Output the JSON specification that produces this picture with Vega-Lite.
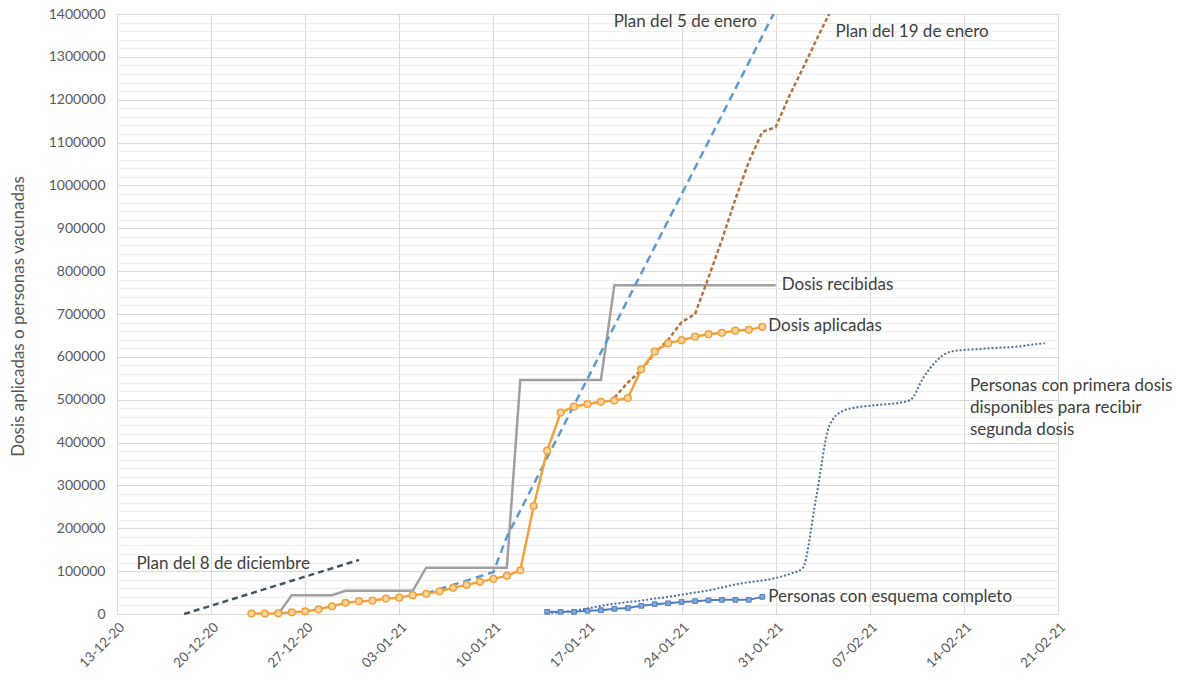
{
  "$schema": "https://vega.github.io/schema/vega-lite/v6.json",
  "width": 941,
  "height": 600,
  "autosize": {"type": "none"},
  "padding": {"left": 117, "top": 14, "right": 130, "bottom": 67},
  "background": "white",
  "config": {
    "font": "Lato",
    "view": {"stroke": "#d9d9d9"},
    "axis": {"labelFont": "Lato", "titleFont": "Lato", "labelColor": "#595959", "titleColor": "#595959"}
  },
  "datasets": {
    "series": [
      {"serie": "plan8", "fecha": "2020-12-18", "valor": 0},
      {"serie": "plan8", "fecha": "2020-12-31", "valor": 126000},

      {"serie": "recibidas", "fecha": "2020-12-25", "valor": 0},
      {"serie": "recibidas", "fecha": "2020-12-26", "valor": 44000},
      {"serie": "recibidas", "fecha": "2020-12-29", "valor": 44000},
      {"serie": "recibidas", "fecha": "2020-12-30", "valor": 54000},
      {"serie": "recibidas", "fecha": "2021-01-04", "valor": 54000},
      {"serie": "recibidas", "fecha": "2021-01-05", "valor": 108000},
      {"serie": "recibidas", "fecha": "2021-01-11", "valor": 108000},
      {"serie": "recibidas", "fecha": "2021-01-12", "valor": 546000},
      {"serie": "recibidas", "fecha": "2021-01-18", "valor": 546000},
      {"serie": "recibidas", "fecha": "2021-01-19", "valor": 767000},
      {"serie": "recibidas", "fecha": "2021-01-31", "valor": 767000},

      {"serie": "plan5", "fecha": "2021-01-05", "valor": 48000},
      {"serie": "plan5", "fecha": "2021-01-10", "valor": 98000},
      {"serie": "plan5", "fecha": "2021-01-11", "valor": 180000},
      {"serie": "plan5", "fecha": "2021-01-31", "valor": 1410000},

      {"serie": "plan19", "fecha": "2021-01-19", "valor": 505000},
      {"serie": "plan19", "fecha": "2021-01-20", "valor": 540000},
      {"serie": "plan19", "fecha": "2021-01-21", "valor": 569000},
      {"serie": "plan19", "fecha": "2021-01-22", "valor": 609000},
      {"serie": "plan19", "fecha": "2021-01-23", "valor": 640000},
      {"serie": "plan19", "fecha": "2021-01-24", "valor": 681000},
      {"serie": "plan19", "fecha": "2021-01-25", "valor": 700000},
      {"serie": "plan19", "fecha": "2021-01-26", "valor": 785000},
      {"serie": "plan19", "fecha": "2021-01-27", "valor": 873000},
      {"serie": "plan19", "fecha": "2021-01-28", "valor": 968000},
      {"serie": "plan19", "fecha": "2021-01-29", "valor": 1055000},
      {"serie": "plan19", "fecha": "2021-01-30", "valor": 1125000},
      {"serie": "plan19", "fecha": "2021-01-31", "valor": 1136000},
      {"serie": "plan19", "fecha": "2021-02-01", "valor": 1208000},
      {"serie": "plan19", "fecha": "2021-02-02", "valor": 1272000},
      {"serie": "plan19", "fecha": "2021-02-03", "valor": 1338000},
      {"serie": "plan19", "fecha": "2021-02-04", "valor": 1402000},

      {"serie": "primera", "fecha": "2021-01-14", "valor": 2000},
      {"serie": "primera", "fecha": "2021-01-15", "valor": 4000},
      {"serie": "primera", "fecha": "2021-01-16", "valor": 8000},
      {"serie": "primera", "fecha": "2021-01-17", "valor": 13000},
      {"serie": "primera", "fecha": "2021-01-18", "valor": 19000},
      {"serie": "primera", "fecha": "2021-01-19", "valor": 24000},
      {"serie": "primera", "fecha": "2021-01-20", "valor": 28000},
      {"serie": "primera", "fecha": "2021-01-21", "valor": 31000},
      {"serie": "primera", "fecha": "2021-01-22", "valor": 36000},
      {"serie": "primera", "fecha": "2021-01-23", "valor": 40000},
      {"serie": "primera", "fecha": "2021-01-24", "valor": 45000},
      {"serie": "primera", "fecha": "2021-01-25", "valor": 50000},
      {"serie": "primera", "fecha": "2021-01-26", "valor": 55000},
      {"serie": "primera", "fecha": "2021-01-27", "valor": 62000},
      {"serie": "primera", "fecha": "2021-01-28", "valor": 69000},
      {"serie": "primera", "fecha": "2021-01-29", "valor": 74000},
      {"serie": "primera", "fecha": "2021-01-30", "valor": 78000},
      {"serie": "primera", "fecha": "2021-01-31", "valor": 84000},
      {"serie": "primera", "fecha": "2021-02-01", "valor": 93000},
      {"serie": "primera", "fecha": "2021-02-02", "valor": 107000},
      {"serie": "primera", "fecha": "2021-02-03", "valor": 270000},
      {"serie": "primera", "fecha": "2021-02-04", "valor": 440000},
      {"serie": "primera", "fecha": "2021-02-05", "valor": 474000},
      {"serie": "primera", "fecha": "2021-02-06", "valor": 482000},
      {"serie": "primera", "fecha": "2021-02-07", "valor": 486000},
      {"serie": "primera", "fecha": "2021-02-08", "valor": 489000},
      {"serie": "primera", "fecha": "2021-02-09", "valor": 492000},
      {"serie": "primera", "fecha": "2021-02-10", "valor": 499000},
      {"serie": "primera", "fecha": "2021-02-11", "valor": 552000},
      {"serie": "primera", "fecha": "2021-02-12", "valor": 592000},
      {"serie": "primera", "fecha": "2021-02-13", "valor": 612000},
      {"serie": "primera", "fecha": "2021-02-14", "valor": 616000},
      {"serie": "primera", "fecha": "2021-02-15", "valor": 618000},
      {"serie": "primera", "fecha": "2021-02-16", "valor": 620000},
      {"serie": "primera", "fecha": "2021-02-17", "valor": 622000},
      {"serie": "primera", "fecha": "2021-02-18", "valor": 624000},
      {"serie": "primera", "fecha": "2021-02-19", "valor": 628000},
      {"serie": "primera", "fecha": "2021-02-20", "valor": 632000},

      {"serie": "completo", "fecha": "2021-01-14", "valor": 5000},
      {"serie": "completo", "fecha": "2021-01-15", "valor": 5000},
      {"serie": "completo", "fecha": "2021-01-16", "valor": 5000},
      {"serie": "completo", "fecha": "2021-01-17", "valor": 7500},
      {"serie": "completo", "fecha": "2021-01-18", "valor": 9000},
      {"serie": "completo", "fecha": "2021-01-19", "valor": 12000},
      {"serie": "completo", "fecha": "2021-01-20", "valor": 14000},
      {"serie": "completo", "fecha": "2021-01-21", "valor": 19000},
      {"serie": "completo", "fecha": "2021-01-22", "valor": 23000},
      {"serie": "completo", "fecha": "2021-01-23", "valor": 25000},
      {"serie": "completo", "fecha": "2021-01-24", "valor": 28000},
      {"serie": "completo", "fecha": "2021-01-25", "valor": 30000},
      {"serie": "completo", "fecha": "2021-01-26", "valor": 32000},
      {"serie": "completo", "fecha": "2021-01-27", "valor": 33000},
      {"serie": "completo", "fecha": "2021-01-28", "valor": 33000},
      {"serie": "completo", "fecha": "2021-01-29", "valor": 33000},
      {"serie": "completo", "fecha": "2021-01-30", "valor": 40000},

      {"serie": "aplicadas", "fecha": "2020-12-23", "valor": 1000},
      {"serie": "aplicadas", "fecha": "2020-12-24", "valor": 1000},
      {"serie": "aplicadas", "fecha": "2020-12-25", "valor": 1500},
      {"serie": "aplicadas", "fecha": "2020-12-26", "valor": 4000},
      {"serie": "aplicadas", "fecha": "2020-12-27", "valor": 6000},
      {"serie": "aplicadas", "fecha": "2020-12-28", "valor": 11000},
      {"serie": "aplicadas", "fecha": "2020-12-29", "valor": 18000},
      {"serie": "aplicadas", "fecha": "2020-12-30", "valor": 26000},
      {"serie": "aplicadas", "fecha": "2020-12-31", "valor": 30000},
      {"serie": "aplicadas", "fecha": "2021-01-01", "valor": 31000},
      {"serie": "aplicadas", "fecha": "2021-01-02", "valor": 36000},
      {"serie": "aplicadas", "fecha": "2021-01-03", "valor": 38000},
      {"serie": "aplicadas", "fecha": "2021-01-04", "valor": 44000},
      {"serie": "aplicadas", "fecha": "2021-01-05", "valor": 47000},
      {"serie": "aplicadas", "fecha": "2021-01-06", "valor": 53000},
      {"serie": "aplicadas", "fecha": "2021-01-07", "valor": 61000},
      {"serie": "aplicadas", "fecha": "2021-01-08", "valor": 68000},
      {"serie": "aplicadas", "fecha": "2021-01-09", "valor": 75000},
      {"serie": "aplicadas", "fecha": "2021-01-10", "valor": 82000},
      {"serie": "aplicadas", "fecha": "2021-01-11", "valor": 89000},
      {"serie": "aplicadas", "fecha": "2021-01-12", "valor": 102000},
      {"serie": "aplicadas", "fecha": "2021-01-13", "valor": 252000},
      {"serie": "aplicadas", "fecha": "2021-01-14", "valor": 381000},
      {"serie": "aplicadas", "fecha": "2021-01-15", "valor": 470000},
      {"serie": "aplicadas", "fecha": "2021-01-16", "valor": 484000},
      {"serie": "aplicadas", "fecha": "2021-01-17", "valor": 490000},
      {"serie": "aplicadas", "fecha": "2021-01-18", "valor": 495000},
      {"serie": "aplicadas", "fecha": "2021-01-19", "valor": 498000},
      {"serie": "aplicadas", "fecha": "2021-01-20", "valor": 504000},
      {"serie": "aplicadas", "fecha": "2021-01-21", "valor": 571000},
      {"serie": "aplicadas", "fecha": "2021-01-22", "valor": 612000},
      {"serie": "aplicadas", "fecha": "2021-01-23", "valor": 632000},
      {"serie": "aplicadas", "fecha": "2021-01-24", "valor": 639000},
      {"serie": "aplicadas", "fecha": "2021-01-25", "valor": 647000},
      {"serie": "aplicadas", "fecha": "2021-01-26", "valor": 653000},
      {"serie": "aplicadas", "fecha": "2021-01-27", "valor": 656000},
      {"serie": "aplicadas", "fecha": "2021-01-28", "valor": 661000},
      {"serie": "aplicadas", "fecha": "2021-01-29", "valor": 663000},
      {"serie": "aplicadas", "fecha": "2021-01-30", "valor": 670000}
    ],
    "etiquetas": [
      {"texto": "Plan del 8 de diciembre", "fecha": "2020-12-14", "valor": 117000},
      {"texto": "Plan del 5 de enero", "fecha": "2021-01-18T12:00:00Z", "valor": 1381000},
      {"texto": "Plan del 19 de enero", "fecha": "2021-02-04", "valor": 1358000},
      {"texto": "Dosis recibidas", "fecha": "2021-01-31", "valor": 767000},
      {"texto": "Dosis aplicadas", "fecha": "2021-01-30", "valor": 673000},
      {"texto": "Personas con esquema completo", "fecha": "2021-01-30", "valor": 40000},
      {"texto": "Personas con primera dosis\ndisponibles para recibir\nsegunda dosis", "fecha": "2021-02-14", "valor": 531000}
    ]
  },
  "resolve": {"axis": {"y": "independent"}},
  "layer": [
    {
      "data": {"name": "series"},
      "transform": [{"filter": "datum.serie === 'plan8'"}],
      "mark": {"type": "line", "stroke": "#44546a", "strokeWidth": 2.5, "strokeDash": [6, 4]},
      "encoding": {
        "x": {
          "field": "fecha", "type": "temporal",
          "scale": {"type": "utc", "domain": [{"year": 2020, "month": 12, "date": 13, "utc": true}, {"year": 2021, "month": 2, "date": 21, "utc": true}]},
          "axis": {
            "values": [
              {"year": 2020, "month": 12, "date": 13, "utc": true},
              {"year": 2020, "month": 12, "date": 20, "utc": true},
              {"year": 2020, "month": 12, "date": 27, "utc": true},
              {"year": 2021, "month": 1, "date": 3, "utc": true},
              {"year": 2021, "month": 1, "date": 10, "utc": true},
              {"year": 2021, "month": 1, "date": 17, "utc": true},
              {"year": 2021, "month": 1, "date": 24, "utc": true},
              {"year": 2021, "month": 1, "date": 31, "utc": true},
              {"year": 2021, "month": 2, "date": 7, "utc": true},
              {"year": 2021, "month": 2, "date": 14, "utc": true},
              {"year": 2021, "month": 2, "date": 21, "utc": true}
            ],
            "format": "%d-%m-%y", "labelAngle": -45, "labelFontSize": 13.5, "labelPadding": 6,
            "grid": true, "gridColor": "#d9d9d9", "domainColor": "#d9d9d9", "ticks": false, "title": null
          }
        },
        "y": {
          "field": "valor", "type": "quantitative",
          "scale": {"domain": [0, 1400000]},
          "axis": {
            "orient": "left",
            "values": [20000, 40000, 60000, 80000, 120000, 140000, 160000, 180000, 220000, 240000, 260000, 280000, 320000, 340000, 360000, 380000, 420000, 440000, 460000, 480000, 520000, 540000, 560000, 580000, 620000, 640000, 660000, 680000, 720000, 740000, 760000, 780000, 820000, 840000, 860000, 880000, 920000, 940000, 960000, 980000, 1020000, 1040000, 1060000, 1080000, 1120000, 1140000, 1160000, 1180000, 1220000, 1240000, 1260000, 1280000, 1320000, 1340000, 1360000, 1380000],
            "grid": true, "gridColor": "#eeeeee", "labels": false, "ticks": false, "domain": false, "title": null
          }
        }
      }
    },
    {
      "encoding": {
        "x": {
          "field": "fecha", "type": "temporal",
          "scale": {"type": "utc", "domain": [{"year": 2020, "month": 12, "date": 13, "utc": true}, {"year": 2021, "month": 2, "date": 21, "utc": true}]}
        },
        "y": {
          "field": "valor", "type": "quantitative",
          "scale": {"domain": [0, 1400000]},
          "axis": {
            "orient": "left",
            "values": [0, 100000, 200000, 300000, 400000, 500000, 600000, 700000, 800000, 900000, 1000000, 1100000, 1200000, 1300000, 1400000],
            "format": "d", "grid": true, "gridColor": "#d9d9d9", "domain": false, "ticks": false,
            "labelFontSize": 14, "labelPadding": 12,
            "title": "Dosis aplicadas o personas vacunadas", "titleFontSize": 17, "titleFontWeight": "normal",
            "titleX": -99, "titleY": 302, "titleAlign": "center", "titleBaseline": "middle"
          }
        }
      },
      "layer": [
        {
          "data": {"name": "series"},
          "transform": [{"filter": "datum.serie === 'recibidas'"}],
          "mark": {"type": "line", "stroke": "#a0a0a0", "strokeWidth": 2.5}
        },
        {
          "data": {"name": "series"},
          "transform": [{"filter": "datum.serie === 'plan5'"}],
          "mark": {"type": "line", "stroke": "#5b9bd5", "strokeWidth": 2.5, "strokeDash": [8, 5], "clip": true}
        },
        {
          "data": {"name": "series"},
          "transform": [{"filter": "datum.serie === 'plan19'"}],
          "mark": {"type": "line", "stroke": "#b8703c", "strokeWidth": 2.5, "strokeDash": [4, 2.5], "clip": true}
        },
        {
          "data": {"name": "series"},
          "transform": [{"filter": "datum.serie === 'primera'"}],
          "mark": {"type": "line", "stroke": "#4a6fa5", "strokeWidth": 2, "strokeDash": [2, 2], "interpolate": "monotone"}
        },
        {
          "data": {"name": "series"},
          "transform": [{"filter": "datum.serie === 'completo'"}],
          "mark": {"type": "line", "stroke": "#4f7ebd", "strokeWidth": 2,
            "point": {"shape": "square", "size": 22, "filled": true, "fill": "#7ea6d8", "stroke": "#4f7ebd", "strokeWidth": 1}}
        },
        {
          "data": {"name": "series"},
          "transform": [{"filter": "datum.serie === 'aplicadas'"}],
          "mark": {"type": "line", "stroke": "#f2a23a", "strokeWidth": 2.5,
            "point": {"shape": "circle", "size": 45, "filled": true, "fill": "#fcd59e", "stroke": "#f0a03a", "strokeWidth": 1.5}}
        },
        {
          "data": {"name": "etiquetas"},
          "mark": {"type": "text", "align": "left", "baseline": "middle", "dx": 6, "fontSize": 17, "font": "Lato", "color": "#404040", "lineBreak": "\n", "lineHeight": 22},
          "encoding": {"text": {"field": "texto"}}
        }
      ]
    }
  ]
}
